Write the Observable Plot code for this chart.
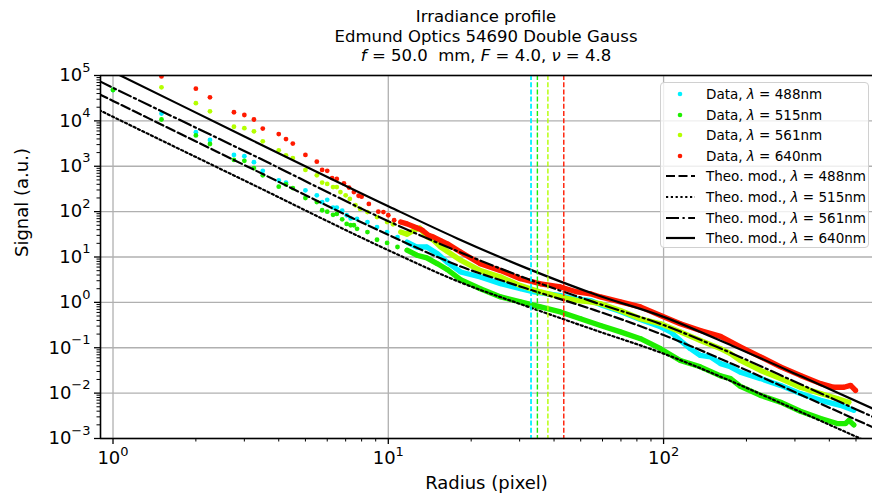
<!DOCTYPE html>
<html><head><meta charset="utf-8">
<script src="https://cdn.jsdelivr.net/npm/d3@7"></script>
<script src="https://cdn.jsdelivr.net/npm/@observablehq/plot@0.6"></script>
<style>
body{margin:0;background:#fff;font-family:"DejaVu Sans",sans-serif;}
#wrap{position:relative;width:872px;height:500px;overflow:hidden;background:#fff;}
#title{position:absolute;left:100px;width:772px;top:7px;text-align:center;font-size:16.5px;line-height:19.5px;color:#000;white-space:pre;}
#legend{position:absolute;left:660px;top:82px;width:209px;height:166px;border:1px solid #d0d0d0;border-radius:4px;background:rgba(255,255,255,0.8);box-sizing:border-box;font-size:13.5px;color:#000;}
.row{position:absolute;left:0;height:20px;display:flex;align-items:center;white-space:pre;}
.row svg{margin-left:4px;margin-right:11px;}
</style></head>
<body><div id="wrap">
<div id="title">Irradiance profile
Edmund Optics 54690 Double Gauss
<i>f</i> = 50.0  mm, <i>F</i> = 4.0, <i>ν</i> = 4.8</div>
<div id="legend"></div>
</div>
<script>
// ---- data (radius in pixels, signal as log10 of a.u.) ----
const wavelengths = ["488", "515", "561", "640"];
const colors = ["#00f0ff", "#1fee00", "#b4ff00", "#ff1a00"];

const r488 = [1,1.5,2,2.25,2.75,3,3.25,3.5,4,4.25,5,5.5,5.75,6,6.3,6.5,6.8,7.06,7.3,7.7,8.4,9.1,9.9,10.8,11.7,12.7,13.8,15.1,16.4,18.3,21.6,25.6,30.2,33.8,42.2,47.2,54.2,59,69.7,82.4,97.5,106,115,125,136,148,161,175,190,225,266,314,372,439,491];
const s488 = [4.68,4.16,3.75,3.58,3.25,3.22,3.09,2.90,2.69,2.64,2.47,2.36,2.21,2.26,2.09,2.09,2.02,1.92,1.85,1.84,1.77,1.66,1.55,1.44,1.33,1.22,1.22,1.07,0.88,0.67,0.56,0.41,0.30,0.23,0.15,0.08,0.04,-0.05,-0.20,-0.38,-0.54,-0.65,-0.84,-1.02,-1.17,-1.20,-1.35,-1.42,-1.54,-1.68,-1.83,-2.01,-2.16,-2.27,-2.38];

const r515 = [1,1.5,2,2.25,2.75,3,3.25,3.5,4,4.25,4.5,5,5.5,5.75,6,6.3,6.5,6.8,7.06,7.3,7.5,7.7,8.4,9.1,9.9,10.8,11.7,12.7,13.8,15.1,16.4,18.3,21.6,25.6,30.2,35.7,42.2,49.9,59,69.7,82.4,97.5,115,136,161,175,190,225,266,314,372,427,458,471,491];
const s515 = [4.68,4.03,3.68,3.49,3.14,3.12,2.96,2.80,2.55,2.60,2.52,2.30,2.21,2.03,2.00,1.93,1.95,1.83,1.73,1.70,1.70,1.62,1.55,1.38,1.31,1.22,1.15,1.04,0.98,0.85,0.72,0.50,0.30,0.12,0.01,-0.10,-0.21,-0.36,-0.51,-0.65,-0.80,-1.02,-1.28,-1.42,-1.62,-1.68,-1.85,-2.05,-2.20,-2.40,-2.56,-2.67,-2.67,-2.60,-2.70];

const r561 = [1.5,2,2.25,2.75,3,3.25,3.5,4,4.25,4.5,5,5.5,5.75,6,6.3,6.5,6.7,7.0,7.25,7.6,7.9,8.4,9.1,9.9,10.4,11.1,11.7,12.4,13.0,13.8,14.6,15.5,16.4,18.3,21.6,25.6,30.2,35.7,42.2,48.5,54.2,59,69.7,82.4,97.5,115,136,161,175,190,225,266,314,372,427,471];
const s561 = [4.74,4.39,4.21,3.87,3.84,3.77,3.55,3.35,3.24,3.18,2.92,2.80,2.64,2.61,2.54,2.54,2.43,2.36,2.28,2.14,2.06,1.99,1.88,1.77,1.72,1.55,1.50,1.59,1.64,1.45,1.37,1.22,1.12,0.93,0.70,0.56,0.37,0.23,0.12,0.04,0.01,-0.03,-0.18,-0.36,-0.47,-0.65,-0.84,-1.02,-1.13,-1.28,-1.50,-1.68,-1.87,-2.01,-2.12,-2.20];

const r640 = [1.5,2,2.25,2.75,3,3.25,3.5,4,4.25,4.5,5,5.5,5.75,6,6.25,6.5,6.9,7.2,7.5,7.8,8.0,8.5,9.2,9.6,10,10.5,11.1,11.7,12.6,13.3,14.0,14.6,15.5,16.4,18.3,21.6,25.6,30.2,35.7,42.2,48.5,54.2,59.0,69.7,82.4,97.5,115,136,161,190,225,266,314,372,415,452,478,498];
const s640 = [4.98,4.71,4.52,4.19,4.13,4.03,3.83,3.71,3.60,3.50,3.25,3.10,2.92,2.90,2.74,2.72,2.62,2.53,2.43,2.35,2.33,2.17,2.00,1.99,1.92,1.81,1.77,1.73,1.65,1.59,1.48,1.44,1.36,1.29,1.11,0.85,0.70,0.52,0.41,0.34,0.23,0.19,0.12,0.01,-0.10,-0.29,-0.47,-0.62,-0.75,-0.98,-1.20,-1.42,-1.61,-1.79,-1.87,-1.87,-1.83,-1.94];

// theoretical model curves
const theoR = [0.89,1,3.16,10,17.8,31.6,56.2,100,178,316,589];
const theo488 = [4.59,4.44,2.96,1.49,0.82,0.31,-0.17,-0.72,-1.36,-2.04,-2.78];
const theo515 = [4.24,4.09,2.62,1.15,0.47,-0.08,-0.61,-1.13,-1.75,-2.42,-3.15];
const theo561 = [4.88,4.73,3.27,1.79,1.13,0.53,0.00,-0.50,-1.13,-1.81,-2.55];
const theo640 = [5.23,5.08,3.59,2.12,1.41,0.76,0.18,-0.32,-0.96,-1.63,-2.37];
const theoDash = ["9,3.5", "2.2,2.6", "13,3.5,2.2,3.5", null];

// vertical markers (radius)
const markerR = [33.0, 34.8, 38.0, 43.4];

// axes
const xDomain = [0.9007, 574];
const yDomain = [1e-3, 1e5];
const xMajor = [1, 10, 100];
const yMajor = [1e-3,1e-2,1e-1,1,10,100,1e3,1e4,1e5];

// ---- build ----
const dataR = [r488, r515, r561, r640];
const dataS = [s488, s515, s561, s640];
const theoS = [theo488, theo515, theo561, theo640];
const series = wavelengths.map((w, i) => dataR[i].map((r, j) => ({r, s: Math.pow(10, dataS[i][j])})));
const theos = wavelengths.map((w, i) => theoR.map((r, j) => ({r, s: Math.pow(10, theoS[i][j])})));

const xMinor = [];
for (let e = -1; e <= 2; e++) for (let m = 2; m <= 9; m++) { const v = m * Math.pow(10, e); if (v > xDomain[0] && v < xDomain[1]) xMinor.push(v); }
const yMinor = [];
for (let e = -3; e <= 4; e++) for (let m = 2; m <= 9; m++) yMinor.push(m * Math.pow(10, e));

const baseFont = 18, expFont = 13;
const expStr = v => { const e = Math.round(Math.log10(v)); return e < 0 ? "\u2212" + (-e) : String(e); };
const expW = s => s.split("").reduce((a, c) => a + (c === "\u2212" ? 0.838 : 0.636) * expFont, 0);
const tenW = 2 * 0.636 * baseFont;

const marks = [
  Plot.gridX(xMajor, {stroke: "#b0b0b0", strokeOpacity: 1, strokeWidth: 1.3}),
  Plot.gridY(yMajor, {stroke: "#b0b0b0", strokeOpacity: 1, strokeWidth: 1.3}),
];
series.forEach((d, i) => {
  marks.push(Plot.line(d.filter(p => p.r >= 11), {x: "r", y: "s", stroke: colors[i], strokeWidth: 5.3, strokeLinejoin: "round", clip: true}));
  marks.push(Plot.dot(d, {x: "r", y: "s", fill: colors[i], r: 2.4, clip: true}));
});
theos.forEach((d, i) => {
  marks.push(Plot.line(d, {x: "r", y: "s", stroke: "black", strokeWidth: 2.2, strokeDasharray: theoDash[i], curve: "monotone-x", clip: true}));
});
markerR.forEach((r, i) => {
  marks.push(Plot.ruleX([r], {stroke: colors[i], strokeWidth: i === 0 ? 1.8 : 1.4, strokeDasharray: "5,2.2"}));
});
marks.push(
  Plot.ruleY([yDomain[1]], {stroke: "black", strokeWidth: 1.6}),
  Plot.ruleY([yDomain[0]], {stroke: "black", strokeWidth: 1.6}),
  Plot.ruleX([xDomain[0]], {stroke: "black", strokeWidth: 1.6}),
  Plot.axisX(xMajor, {tickSize: 6, tickFormat: () => "", label: null, strokeWidth: 1.3}),
  Plot.axisX(xMinor, {tickSize: 3.5, tickFormat: () => "", label: null, strokeWidth: 1}),
  Plot.axisY(yMajor, {tickSize: 6, tickFormat: () => "", label: null, strokeWidth: 1.3}),
  Plot.axisY(yMinor, {tickSize: 3.5, tickFormat: () => "", label: null, strokeWidth: 1}),
  Plot.text(["Radius (pixel)"], {frameAnchor: "bottom", dy: 50, fontSize: 18}),
  Plot.text(["Signal (a.u.)"], {frameAnchor: "left", dx: -78, rotate: -90, fontSize: 18})
);
// tick labels as 10 with a raised exponent
yMajor.forEach(v => {
  const s = expStr(v), w = expW(s);
  marks.push(Plot.text([v], {y: d => d, frameAnchor: "left", text: () => "10", textAnchor: "end", dx: -10 - w, fontSize: baseFont}));
  marks.push(Plot.text([v], {y: d => d, frameAnchor: "left", text: () => s, textAnchor: "end", dx: -10, dy: -8, fontSize: expFont}));
});
xMajor.forEach(v => {
  const s = expStr(v), w = expW(s), total = tenW + w;
  marks.push(Plot.text([v], {x: d => d, frameAnchor: "bottom", text: () => "10", textAnchor: "start", dx: -total / 2, dy: 25, fontSize: baseFont}));
  marks.push(Plot.text([v], {x: d => d, frameAnchor: "bottom", text: () => s, textAnchor: "start", dx: -total / 2 + tenW, dy: 17, fontSize: expFont}));
});

const chart = Plot.plot({
  width: 872, height: 500,
  marginLeft: 100, marginRight: 0, marginTop: 75, marginBottom: 62,
  style: {fontFamily: "DejaVu Sans", background: "white", color: "black"},
  x: {type: "log", domain: xDomain},
  y: {type: "log", domain: yDomain},
  marks
});
document.getElementById("wrap").prepend(chart);

// legend
const legend = document.getElementById("legend");
const rowsTop = 1;
const rowStep = 20.6;
wavelengths.forEach((w, i) => {
  const row = document.createElement("div");
  row.className = "row";
  row.style.top = (rowsTop + i * rowStep) + "px";
  row.innerHTML = `<svg width="30" height="20"><circle cx="15" cy="10" r="2.3" fill="${colors[i]}"/></svg><span>Data, <i>λ</i> = ${w}nm</span>`;
  legend.appendChild(row);
});
wavelengths.forEach((w, i) => {
  const row = document.createElement("div");
  row.className = "row";
  row.style.top = (rowsTop + (i + 4) * rowStep) + "px";
  const dash = theoDash[i] ? `stroke-dasharray="${theoDash[i]}"` : "";
  row.innerHTML = `<svg width="30" height="20"><line x1="1" x2="30" y1="10" y2="10" stroke="black" stroke-width="2.2" ${dash}/></svg><span>Theo. mod., <i>λ</i> = ${w}nm</span>`;
  legend.appendChild(row);
});
</script>
</body></html>
